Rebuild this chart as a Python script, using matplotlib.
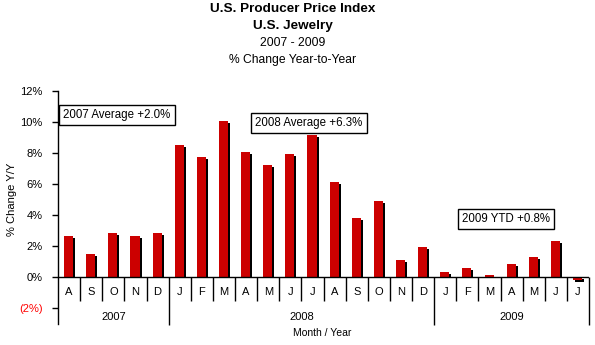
import numpy as np
import matplotlib.pyplot as plt

plt.rcParams['font.family'] = ['Liberation Sans', 'DejaVu Sans']

# months Aug 2007 .. Jul 2009
months = ['A', 'S', 'O', 'N', 'D',
          'J', 'F', 'M', 'A', 'M', 'J', 'J', 'A', 'S', 'O', 'N', 'D',
          'J', 'F', 'M', 'A', 'M', 'J', 'J']
pct_change = [2.66, 1.50, 2.85, 2.66, 2.85,
              8.50, 7.73, 10.05, 8.08, 7.22, 7.93, 9.15, 6.13, 3.81, 4.90, 1.11, 1.95,
              0.34, 0.60, 0.15, 0.86, 1.30, 2.33, -0.15]
years = ['2007', '2008', '2009']
year_start = [0, 5, 17]   # index of first month of each year
year_notes = ['2007 Average +2.0%', '2008 Average +6.3%', '2009 YTD +0.8%']

x = np.arange(len(months))
vals = np.array(pct_change)

fig = plt.figure(figsize=(5.95, 3.45), dpi=100)
ax = fig.add_axes([0.0975, 0.061, 0.8925, 0.676])

# shadow bars (offset right / down) then red bars
dx, dy = 0.09, 0.13
bw = 0.41
sh_bottom = np.where(vals > 0, 0, -dy)
sh_height = np.where(vals > 0, vals - dy, vals)
ax.bar(x - 0.02 + dx, sh_height, bottom=sh_bottom, width=bw, color='black', zorder=2)
ax.bar(x - 0.02, vals, width=bw, color='#cc0000', zorder=3)

ax.set_xlim(-0.5, len(months) - 0.5)
ax.set_ylim(-3, 12)
ax.axhline(0, color='black', lw=1, zorder=4)

for s in ['top', 'right', 'bottom']:
    ax.spines[s].set_visible(False)
ax.spines['left'].set_linewidth(1)

ax.set_xticks([])
yt = np.arange(-2, 13, 2)
ax.set_yticks(yt)
ax.set_yticklabels(['(2%)' if v < 0 else f'{v}%' for v in yt], fontsize=8)
ax.get_yticklabels()[0].set_color('#ff0000')
ax.tick_params(axis='y', length=4, width=1, pad=7)

# y label placed like the original (a bit lower than axis centre)
fig.text(12 / 595, 1 - 199 / 345, '% Change Y/Y', rotation=90,
         ha='center', va='center', fontsize=8)

# month category axis
bounds = np.arange(len(months) + 1) - 0.5
year_bounds = [year_start[i] - 0.5 for i in range(len(years))] + [len(months) - 0.5]
month_lines = [b for b in bounds if b not in year_bounds]
ax.vlines(month_lines, -1.5, 0, color='black', lw=1, clip_on=False)
ax.vlines(year_bounds[1:], -3.05, 0, color='black', lw=1, clip_on=False)
for i, m in enumerate(months):
    ax.text(i, -0.95, m, ha='center', va='center', fontsize=8)
for i, yname in enumerate(years):
    c = (year_bounds[i] + year_bounds[i + 1]) / 2
    ax.text(c, -2.55, yname, ha='center', va='center', fontsize=8)

fig.text(322 / 595, 1 - 333 / 345, 'Month / Year', ha='center', va='center', fontsize=7.5)

# annotation boxes
box = dict(boxstyle='square,pad=0.35', fc='white', ec='black', lw=1)
note_pos = [(2.17, 10.44), (10.84, 9.92), (19.75, 3.75)]
for (nx, ny), t in zip(note_pos, year_notes):
    ax.text(nx, ny, t, ha='center', va='center', fontsize=8.3, bbox=box, zorder=5)

# titles
tx = 293 / 595
fig.text(tx, 1 - 9 / 345, 'U.S. Producer Price Index', ha='center', va='center',
         fontsize=9.7, fontweight='bold')
fig.text(tx, 1 - 25.5 / 345, 'U.S. Jewelry', ha='center', va='center',
         fontsize=9.7, fontweight='bold')
fig.text(tx, 1 - 43 / 345, '2007 - 2009', ha='center', va='center', fontsize=8.7)
fig.text(tx, 1 - 60 / 345, '% Change Year-to-Year', ha='center', va='center', fontsize=8.7)

fig.savefig('out.png', dpi=100)
